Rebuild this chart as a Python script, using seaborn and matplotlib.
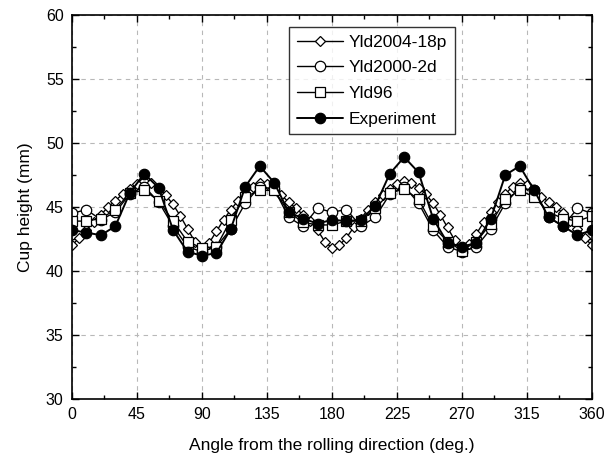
import numpy as np
import pandas as pd
import matplotlib
matplotlib.use("Agg")
import matplotlib.pyplot as plt
from matplotlib.ticker import MultipleLocator
import seaborn as sns

# angles (deg.) from the rolling direction
angle_5 = list(range(0, 361, 5))
angle_10 = list(range(0, 361, 10))

yld2004 = [42.0, 42.6, 43.2, 43.8, 44.4, 45.0, 45.5, 46.0, 46.4, 46.8,
           47.0, 46.9, 46.5, 45.9, 45.2, 44.3, 43.3, 42.3, 41.7, 42.2,
           43.1, 44.0, 44.8, 45.5, 46.1, 46.6, 46.9, 46.8, 46.4, 45.9,
           45.4, 44.9, 44.4, 43.9, 43.2, 42.3, 41.8, 42.0, 42.6, 43.4,
           44.1, 44.8, 45.4, 45.9, 46.4, 46.8, 47.0, 46.9, 46.5, 46.0,
           45.3, 44.4, 43.4, 42.4, 41.6, 42.1, 42.9, 43.8, 44.6, 45.4,
           46.0, 46.6, 46.9, 46.7, 46.2, 45.8, 45.4, 45.0, 44.5, 43.9,
           43.3, 42.6, 42.0]

yld2000 = [44.5, 44.8, 44.0, 44.6, 46.0, 46.6, 45.4, 43.5, 41.9, 41.5,
           41.9, 43.3, 45.3, 46.6, 46.4, 44.2, 43.5, 44.9, 44.6, 44.8,
           43.5, 44.2, 46.0, 46.6, 45.3, 43.2, 41.9, 41.5, 41.9, 43.3,
           45.3, 46.5, 46.3, 44.2, 43.5, 44.9, 44.5]

yld96 = [43.9, 43.9, 44.1, 44.8, 46.1, 46.3, 45.5, 43.9, 42.3, 41.8,
         41.9, 44.0, 45.8, 46.3, 46.3, 44.6, 43.8, 43.6, 43.6, 43.9,
         43.9, 44.9, 46.1, 46.4, 45.6, 43.5, 42.3, 41.6, 42.3, 43.7,
         45.6, 46.3, 45.8, 44.6, 44.1, 43.9, 44.3]

experiment = [43.2, 43.0, 42.8, 43.5, 46.1, 47.6, 46.5, 43.2, 41.5, 41.2,
              41.4, 43.3, 46.6, 48.2, 46.9, 44.6, 44.1, 43.7, 44.0, 43.9,
              44.0, 45.1, 47.6, 48.9, 47.7, 44.1, 42.2, 41.9, 42.2, 44.1,
              47.5, 48.2, 46.3, 44.2, 43.5, 42.8, 43.2]

sns.set_style("ticks")
plt.rcParams['font.family'] = ['Liberation Sans', 'DejaVu Sans']
plt.rcParams['text.color'] = 'black'
plt.rcParams['axes.labelcolor'] = 'black'
plt.rcParams['xtick.color'] = 'black'
plt.rcParams['ytick.color'] = 'black'

fig = plt.figure(figsize=(6.06, 4.65), dpi=100)
ax = fig.add_axes([0.1188, 0.1419, 0.858, 0.8258])

series = [
    ("Yld2004-18p", angle_5, yld2004, "D", "white", 1.0, 5.5),
    ("Yld2000-2d", angle_10, yld2000, "o", "white", 1.0, 7.5),
    ("Yld96", angle_10, yld96, "s", "white", 1.0, 6.5),
    ("Experiment", angle_10, experiment, "o", "black", 1.4, 7.5),
]

for name, xs, ys, mk, fc, lw, ms in series:
    df = pd.DataFrame({"angle": xs, "height": ys})
    sns.lineplot(data=df, x="angle", y="height", ax=ax, color="black",
                 marker=mk, markerfacecolor=fc, markeredgecolor="black",
                 markeredgewidth=0.9, markersize=ms, linewidth=lw,
                 label=name)

ax.set_xlim(0, 360)
ax.set_ylim(30, 60)
ax.xaxis.set_major_locator(MultipleLocator(45))
ax.xaxis.set_minor_locator(MultipleLocator(22.5))
ax.yaxis.set_major_locator(MultipleLocator(5))
ax.yaxis.set_minor_locator(MultipleLocator(2.5))
ax.tick_params(which="both", direction="in", top=True, right=True,
               labelsize=11.5, width=1.0, colors="black")
ax.tick_params(which="major", length=5, pad=6)
ax.tick_params(which="minor", length=3)
ax.grid(True, which="major", linestyle=(0, (4, 4)), color="#b8b8b8", linewidth=0.8)
for s in ax.spines.values():
    s.set_linewidth(1.2)
    s.set_color("black")

ax.set_xlabel("Angle from the rolling direction (deg.)", fontsize=12.5, labelpad=11)
ax.set_ylabel("Cup height (mm)", fontsize=12.5, labelpad=9)

leg = ax.legend(loc="upper left", bbox_to_anchor=(0.417, 0.969), fontsize=12.5,
                frameon=True, fancybox=False, edgecolor="black",
                handlelength=2.7, borderpad=0.45, labelspacing=0.6,
                handletextpad=0.3, borderaxespad=0)
leg.get_frame().set_linewidth(1.0)

fig.savefig("out.png", dpi=100)
